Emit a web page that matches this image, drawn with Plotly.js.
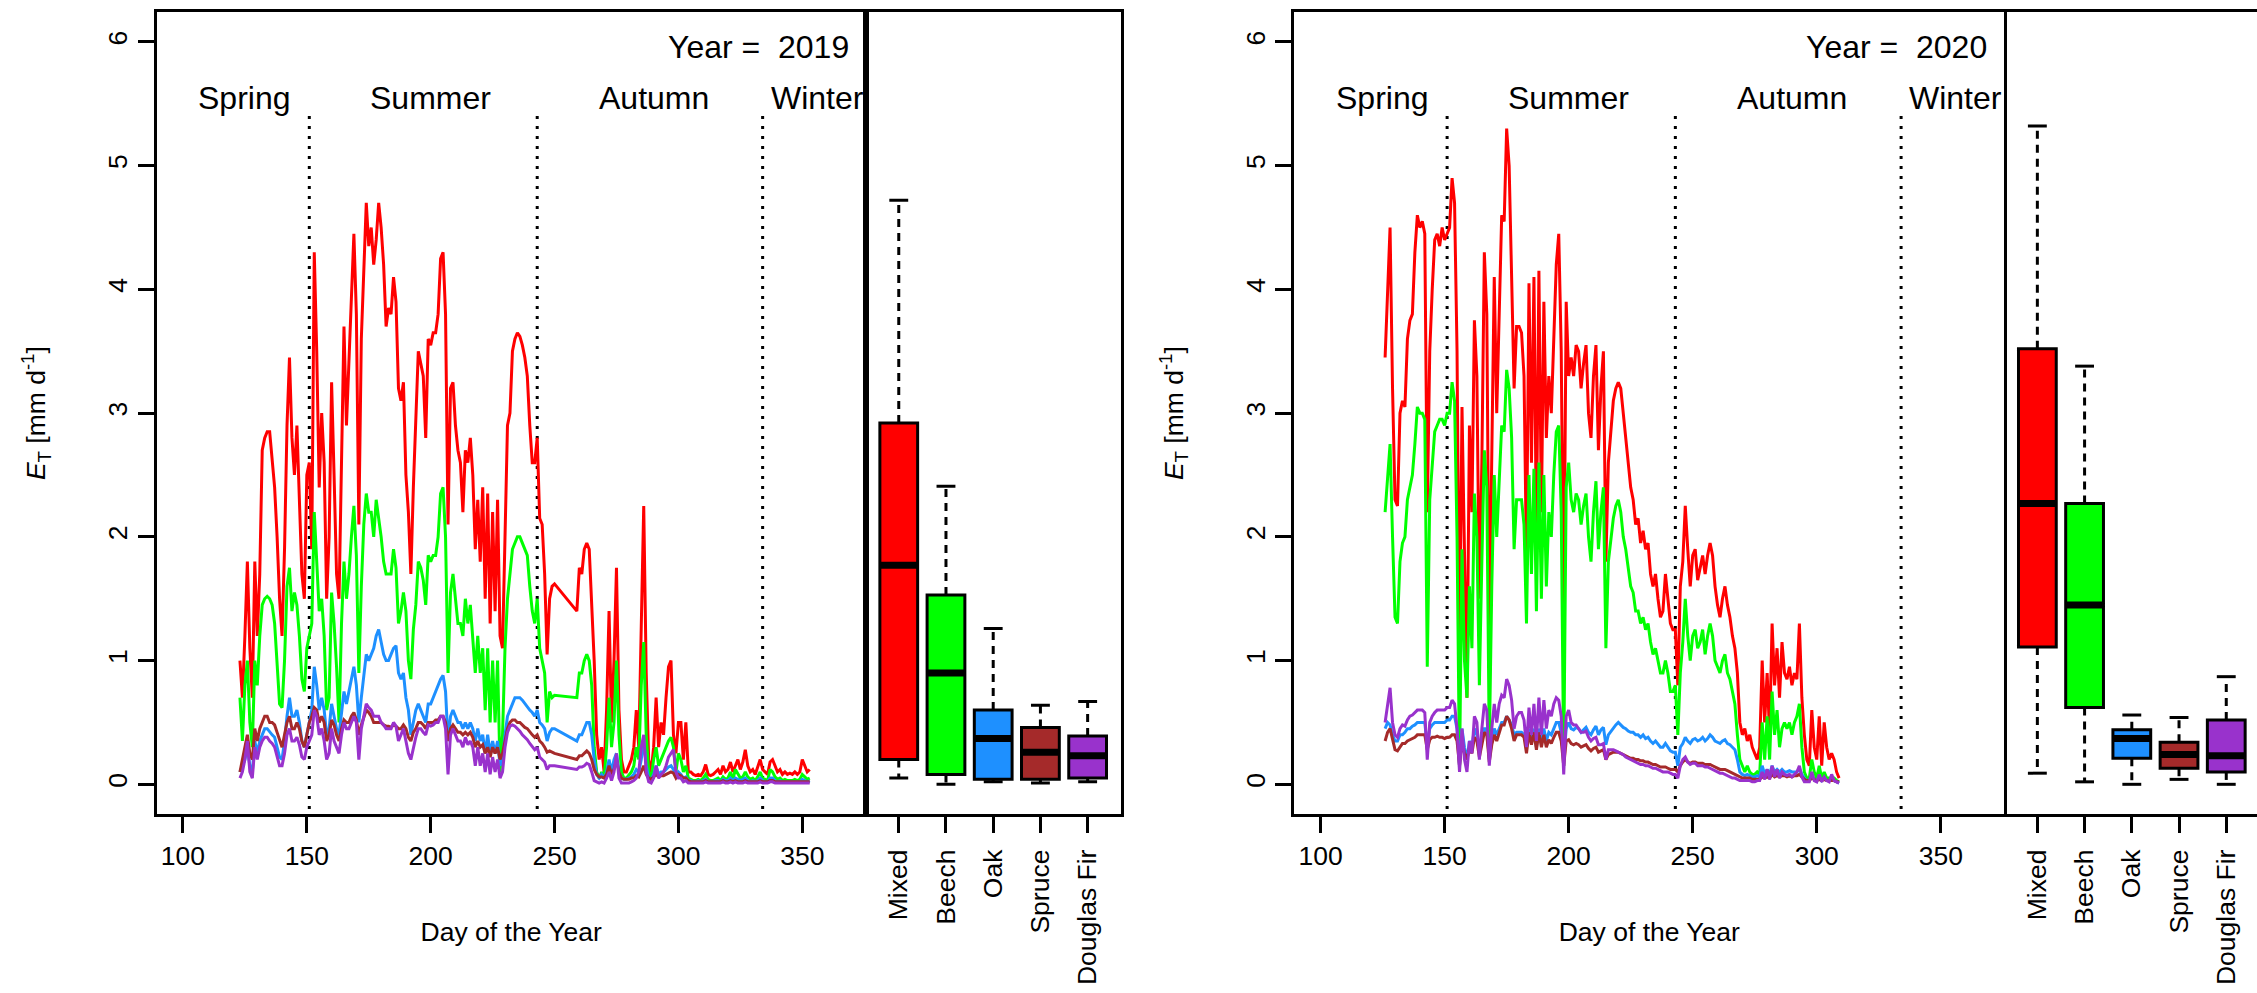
<!DOCTYPE html>
<html>
<head>
<meta charset="utf-8">
<script src="https://cdn.plot.ly/plotly-3.0.1.min.js"></script>
<style>html,body{margin:0;padding:0;background:#fff;}#chart{width:2257px;height:993px;}</style>
</head>
<body>
<div id="chart"></div>
<script>
// ---------------- DATA ----------------
const species = ['Mixed', 'Beech', 'Oak', 'Spruce', 'Douglas Fir'];
const speciesColors = ['#FF0000', '#00FF00', '#1E90FF', '#A52A2A', '#9932CC'];
const seasonNames = ['Spring', 'Summer', 'Autumn', 'Winter'];
const seasonLabelDays = [125, 200, 290, 356];
const seasonBoundaryDays = [151, 243, 334];
const dayTicks = [100, 150, 200, 250, 300, 350];
const etTicks = [0, 1, 2, 3, 4, 5, 6];

// 2019: observed days 123-250 and 259-353 (gap 251-258)
const days2019a = [123, 250];
const days2019b = [259, 353];

const mixed2019 = [
 1.0,0.7,1.2,1.8,1.1,0.7,1.8,1.2,1.7,2.7,
 2.8,2.85,2.85,2.6,2.4,2.0,1.5,1.2,1.9,2.9,
 3.45,2.8,2.5,2.9,2.2,1.7,1.5,2.5,2.6,1.9,
 4.3,3.5,2.4,3.0,2.6,1.5,2.0,3.25,2.5,1.7,
 1.5,2.6,3.7,2.9,3.4,4.0,4.45,3.8,2.1,3.6,
 4.1,4.7,4.35,4.5,4.2,4.4,4.7,4.5,4.2,3.7,
 3.85,3.8,4.1,3.9,3.2,3.1,3.25,2.5,2.2,1.7,
 2.4,3.0,3.5,3.4,3.3,2.8,3.6,3.55,3.65,3.65,
 3.8,4.25,4.3,3.8,2.1,3.2,3.25,2.9,2.7,2.6,
 2.2,2.7,2.6,2.8,2.5,1.9,2.3,1.8,2.4,1.5,
 2.35,1.3,2.2,1.4,2.3,1.2,1.1,2.0,2.9,3.0,
 3.5,3.6,3.65,3.62,3.55,3.45,3.3,2.9,2.6,2.6,
 2.8,2.15,2.1,1.7,1.05,1.5,1.6,1.62,
 1.4,1.75,1.7,1.9,1.95,1.9,1.5,1.0,0.4,0.2,
 0.3,0.1,0.6,1.4,0.5,1.0,1.75,0.6,0.2,0.1,
 0.1,0.15,0.2,0.3,0.6,0.3,1.2,2.25,0.9,0.2,
 0.1,0.3,0.7,0.3,0.5,0.4,0.7,0.95,1.0,0.4,
 0.25,0.5,0.5,0.2,0.5,0.1,
 0.1,0.08,0.07,0.08,0.07,0.1,0.16,0.08,0.07,0.08,
 0.1,0.12,0.08,0.15,0.1,0.12,0.18,0.1,0.15,0.2,
 0.12,0.18,0.28,0.15,0.1,0.12,0.08,0.15,0.2,0.12,
 0.1,0.08,0.18,0.2,0.15,0.1,0.12,0.08,0.1,0.08,
 0.09,0.08,0.1,0.08,0.1,0.2,0.15,0.1,0.12
];
const beech2019 = [
 0.7,0.35,0.8,1.0,0.5,0.3,1.0,0.8,1.2,1.45,
 1.5,1.52,1.5,1.45,1.3,1.0,0.65,0.62,1.0,1.6,
 1.75,1.4,1.55,1.45,1.2,0.85,0.75,1.1,1.2,1.3,
 2.2,1.8,1.4,1.5,1.2,0.6,0.7,1.55,1.3,0.95,
 0.5,1.3,1.8,1.5,1.7,2.0,2.25,1.85,0.9,1.6,
 2.1,2.35,2.2,2.2,2.0,2.3,2.15,2.0,1.8,1.7,
 1.7,1.7,1.9,1.75,1.3,1.4,1.55,1.4,1.0,0.85,
 1.25,1.45,1.8,1.75,1.65,1.45,1.85,1.8,1.85,1.85,
 2.0,2.35,2.4,2.0,0.9,1.55,1.7,1.5,1.3,1.3,
 1.2,1.5,1.3,1.45,1.2,0.9,1.2,0.9,1.1,0.6,
 1.1,0.5,1.0,0.5,1.0,0.1,0.4,1.1,1.5,1.7,
 1.9,1.95,2.0,2.0,1.95,1.9,1.85,1.6,1.4,1.3,
 1.5,1.1,1.0,0.9,0.5,0.75,0.7,0.72,
 0.7,0.9,0.9,1.0,1.05,1.0,0.8,0.3,0.1,0.05,
 0.1,0.05,0.3,0.7,0.3,0.5,1.0,0.4,0.1,0.05,
 0.05,0.08,0.1,0.15,0.3,0.2,0.8,1.15,0.4,0.1,
 0.05,0.2,0.3,0.15,0.2,0.25,0.3,0.35,0.38,0.3,
 0.1,0.25,0.2,0.1,0.15,0.05,
 0.04,0.03,0.03,0.04,0.03,0.05,0.08,0.04,0.03,0.03,
 0.04,0.05,0.03,0.06,0.04,0.05,0.1,0.04,0.12,0.08,
 0.05,0.06,0.1,0.06,0.04,0.05,0.03,0.06,0.1,0.05,
 0.04,0.03,0.12,0.1,0.06,0.04,0.05,0.03,0.04,0.03,
 0.03,0.03,0.04,0.03,0.04,0.08,0.06,0.04,0.05
];
const oak2019 = [
 0.1,0.15,0.2,0.3,0.15,0.1,0.35,0.25,0.35,0.4,
 0.45,0.45,0.42,0.4,0.38,0.3,0.22,0.2,0.35,0.55,
 0.7,0.55,0.55,0.6,0.5,0.35,0.3,0.4,0.5,0.6,
 0.95,0.8,0.6,0.7,0.6,0.4,0.45,0.65,0.55,0.45,
 0.4,0.6,0.75,0.65,0.75,0.85,0.95,0.8,0.5,0.7,
 0.9,1.05,1.0,1.05,1.1,1.2,1.25,1.15,1.05,1.0,
 1.0,1.05,1.1,1.12,0.9,0.85,0.9,0.7,0.6,0.4,
 0.5,0.6,0.65,0.6,0.55,0.5,0.65,0.65,0.7,0.75,
 0.8,0.85,0.88,0.75,0.35,0.55,0.6,0.55,0.5,0.5,
 0.45,0.5,0.45,0.5,0.45,0.35,0.45,0.35,0.4,0.25,
 0.4,0.25,0.35,0.25,0.35,0.15,0.2,0.4,0.55,0.6,
 0.65,0.7,0.7,0.7,0.68,0.65,0.63,0.6,0.58,0.55,
 0.6,0.5,0.48,0.45,0.35,0.42,0.45,0.45,
 0.35,0.4,0.4,0.45,0.5,0.5,0.4,0.2,0.08,0.05,
 0.08,0.05,0.1,0.2,0.1,0.2,0.25,0.1,0.05,0.04,
 0.04,0.05,0.06,0.08,0.12,0.1,0.2,0.35,0.15,0.05,
 0.04,0.08,0.15,0.08,0.1,0.1,0.12,0.14,0.15,0.12,
 0.06,0.1,0.08,0.05,0.06,0.03,
 0.03,0.02,0.02,0.03,0.02,0.03,0.04,0.02,0.02,0.02,
 0.03,0.03,0.02,0.04,0.03,0.03,0.05,0.03,0.05,0.04,
 0.03,0.04,0.05,0.03,0.02,0.03,0.02,0.03,0.05,0.03,
 0.02,0.02,0.05,0.05,0.03,0.02,0.03,0.02,0.02,0.02,
 0.02,0.02,0.02,0.02,0.02,0.04,0.03,0.02,0.03
];
const spruce2019 = [
 0.1,0.2,0.3,0.4,0.25,0.2,0.45,0.35,0.45,0.5,
 0.55,0.55,0.5,0.5,0.48,0.42,0.35,0.3,0.4,0.5,
 0.55,0.45,0.45,0.5,0.45,0.35,0.3,0.4,0.5,0.55,
 0.62,0.6,0.5,0.55,0.5,0.35,0.4,0.52,0.48,0.4,
 0.35,0.45,0.52,0.5,0.5,0.55,0.58,0.52,0.4,0.48,
 0.55,0.6,0.58,0.55,0.5,0.5,0.5,0.5,0.48,0.47,
 0.47,0.46,0.48,0.47,0.45,0.45,0.48,0.45,0.38,0.35,
 0.42,0.45,0.5,0.5,0.48,0.45,0.5,0.5,0.5,0.52,
 0.52,0.55,0.55,0.5,0.35,0.45,0.48,0.45,0.42,0.42,
 0.4,0.42,0.4,0.42,0.38,0.3,0.35,0.3,0.32,0.25,
 0.3,0.22,0.3,0.25,0.3,0.2,0.25,0.35,0.45,0.5,
 0.52,0.52,0.5,0.5,0.48,0.46,0.45,0.42,0.4,0.38,
 0.4,0.35,0.33,0.3,0.26,0.27,0.26,0.25,
 0.2,0.23,0.23,0.25,0.27,0.25,0.2,0.12,0.08,0.06,
 0.06,0.05,0.08,0.15,0.08,0.12,0.2,0.1,0.05,0.04,
 0.04,0.04,0.05,0.05,0.07,0.06,0.1,0.15,0.08,0.05,
 0.04,0.06,0.08,0.06,0.07,0.07,0.08,0.09,0.1,0.09,
 0.05,0.08,0.07,0.05,0.05,0.03,
 0.02,0.02,0.02,0.02,0.02,0.02,0.03,0.02,0.02,0.02,
 0.02,0.02,0.02,0.03,0.02,0.02,0.03,0.02,0.03,0.02,
 0.02,0.02,0.03,0.02,0.02,0.02,0.02,0.02,0.03,0.02,
 0.02,0.02,0.03,0.03,0.02,0.02,0.02,0.02,0.02,0.02,
 0.02,0.02,0.02,0.02,0.02,0.02,0.02,0.02,0.02
];
const douglas2019 = [
 0.05,0.1,0.2,0.35,0.1,0.05,0.3,0.2,0.3,0.35,
 0.38,0.38,0.35,0.33,0.3,0.22,0.15,0.15,0.25,0.4,
 0.45,0.35,0.35,0.38,0.32,0.22,0.2,0.3,0.35,0.4,
 0.6,0.55,0.4,0.45,0.35,0.2,0.25,0.45,0.35,0.3,
 0.25,0.4,0.5,0.45,0.45,0.5,0.55,0.5,0.2,0.45,
 0.55,0.65,0.62,0.6,0.55,0.55,0.55,0.5,0.48,0.45,
 0.45,0.45,0.5,0.47,0.35,0.4,0.45,0.35,0.25,0.2,
 0.3,0.38,0.45,0.45,0.42,0.4,0.48,0.47,0.48,0.5,
 0.5,0.55,0.55,0.45,0.08,0.4,0.45,0.4,0.35,0.35,
 0.3,0.38,0.32,0.35,0.3,0.15,0.3,0.15,0.25,0.1,
 0.25,0.08,0.22,0.1,0.2,0.05,0.1,0.3,0.42,0.47,
 0.48,0.47,0.45,0.43,0.4,0.38,0.36,0.33,0.3,0.28,
 0.3,0.22,0.2,0.18,0.12,0.15,0.15,0.15,
 0.12,0.14,0.14,0.15,0.17,0.16,0.1,0.03,0.02,0.01,
 0.02,0.01,0.05,0.1,0.03,0.1,0.25,0.05,0.01,0.01,
 0.01,0.01,0.02,0.03,0.05,0.1,0.3,0.4,0.1,0.02,
 0.01,0.05,0.15,0.05,0.08,0.1,0.15,0.22,0.25,0.28,
 0.1,0.05,0.05,0.02,0.03,0.01,
 0.01,0.01,0.01,0.01,0.01,0.01,0.02,0.01,0.01,0.01,
 0.01,0.01,0.01,0.02,0.01,0.01,0.02,0.01,0.02,0.01,
 0.01,0.01,0.02,0.01,0.01,0.01,0.01,0.01,0.02,0.01,
 0.01,0.01,0.02,0.02,0.01,0.01,0.01,0.01,0.01,0.01,
 0.01,0.01,0.01,0.01,0.01,0.01,0.01,0.01,0.01
];

// 2020: observed days 126-309
const days2020 = [126, 309];
const mixed2020 = [
 3.45,4.0,4.5,3.2,2.3,2.25,3.0,3.1,3.05,3.6,
 3.75,3.8,4.3,4.6,4.5,4.55,4.45,2.2,3.5,4.0,
 4.4,4.45,4.35,4.5,4.4,4.45,4.5,4.9,4.7,3.5,
 1.0,3.05,1.9,0.7,2.9,2.2,3.75,3.3,1.5,2.6,
 4.3,3.8,1.2,2.6,4.1,3.0,3.9,4.6,4.55,5.3,
 5.0,4.2,3.2,3.7,3.7,3.65,3.3,1.8,4.05,2.6,
 4.1,2.0,4.15,2.2,3.9,2.8,3.3,3.0,3.7,4.2,
 4.45,3.5,1.3,3.9,3.3,3.45,3.3,3.55,3.5,3.2,
 3.4,3.55,3.0,2.8,3.3,3.55,2.7,3.2,3.5,1.8,
 2.6,2.85,3.1,3.2,3.25,3.2,3.0,2.8,2.6,2.4,
 2.3,2.1,2.15,1.95,2.05,1.9,1.95,1.7,1.6,1.7,
 1.5,1.35,1.4,1.7,1.5,1.3,1.25,1.25,0.8,1.6,
 1.8,2.25,1.9,1.6,1.85,1.9,1.65,1.75,1.85,1.7,
 1.85,1.95,1.85,1.6,1.45,1.35,1.5,1.6,1.45,1.35,
 1.2,1.1,0.9,0.5,0.4,0.45,0.35,0.4,0.3,0.25,
 0.2,0.3,1.0,0.5,0.9,0.4,1.3,0.8,1.1,0.7,
 1.15,0.9,0.85,0.95,0.8,0.9,0.85,1.3,0.7,0.4,
 0.2,0.15,0.6,0.3,0.2,0.55,0.15,0.5,0.3,0.2,
 0.25,0.2,0.1,0.05
];
const beech2020 = [
 2.2,2.5,2.75,2.0,1.35,1.3,1.8,1.95,2.0,2.3,
 2.4,2.5,2.75,3.05,3.0,3.0,2.95,0.95,2.3,2.6,
 2.85,2.9,2.95,2.95,2.9,3.0,3.0,3.25,3.1,2.0,
 0.1,1.9,1.0,0.7,1.6,1.1,2.35,2.0,0.8,1.8,
 2.7,2.4,0.3,1.6,2.5,2.0,2.45,2.9,2.85,3.35,
 3.2,2.8,1.9,2.3,2.3,2.3,2.1,1.3,2.5,1.7,
 2.55,1.4,2.6,1.5,2.5,1.6,2.2,2.0,2.5,2.85,
 2.9,2.2,0.15,2.4,2.6,2.3,2.2,2.35,2.3,2.1,
 2.25,2.35,2.0,1.8,2.2,2.45,1.9,2.2,2.4,1.1,
 1.8,2.0,2.15,2.25,2.3,2.2,2.0,1.9,1.75,1.6,
 1.55,1.4,1.4,1.3,1.35,1.25,1.3,1.15,1.05,1.1,
 1.0,0.9,0.9,1.0,0.9,0.75,0.75,0.8,0.4,0.9,
 1.15,1.5,1.2,1.0,1.2,1.25,1.1,1.15,1.25,1.05,
 1.2,1.3,1.2,1.0,0.95,0.9,1.0,1.05,0.9,0.85,
 0.75,0.65,0.4,0.2,0.15,0.1,0.15,0.1,0.08,0.08,
 0.1,0.08,0.5,0.2,0.55,0.2,0.75,0.4,0.6,0.3,
 0.45,0.5,0.45,0.5,0.4,0.5,0.55,0.65,0.3,0.1,
 0.05,0.05,0.2,0.1,0.05,0.15,0.05,0.1,0.05,0.05,
 0.05,0.05,0.03,0.02
];
const oak2020 = [
 0.45,0.5,0.48,0.4,0.35,0.35,0.4,0.4,0.42,0.45,
 0.45,0.47,0.48,0.5,0.5,0.5,0.5,0.3,0.45,0.48,
 0.5,0.5,0.5,0.5,0.5,0.52,0.52,0.55,0.55,0.45,
 0.15,0.45,0.3,0.2,0.35,0.3,0.45,0.4,0.25,0.35,
 0.45,0.45,0.2,0.35,0.45,0.4,0.45,0.5,0.5,0.55,
 0.52,0.48,0.4,0.42,0.42,0.42,0.4,0.3,0.45,0.35,
 0.45,0.3,0.45,0.35,0.45,0.35,0.42,0.4,0.45,0.5,
 0.5,0.42,0.2,0.45,0.5,0.45,0.44,0.46,0.45,0.42,
 0.44,0.46,0.42,0.4,0.44,0.47,0.4,0.44,0.46,0.32,
 0.4,0.43,0.46,0.48,0.5,0.48,0.46,0.45,0.43,0.42,
 0.42,0.4,0.4,0.38,0.4,0.37,0.38,0.35,0.33,0.35,
 0.32,0.3,0.3,0.33,0.3,0.27,0.26,0.26,0.15,0.3,
 0.33,0.38,0.35,0.33,0.36,0.37,0.35,0.36,0.38,0.35,
 0.37,0.4,0.38,0.35,0.34,0.33,0.35,0.36,0.33,0.32,
 0.3,0.28,0.2,0.1,0.08,0.07,0.08,0.07,0.06,0.06,
 0.07,0.06,0.15,0.08,0.12,0.08,0.15,0.1,0.12,0.1,
 0.12,0.1,0.1,0.11,0.1,0.1,0.1,0.13,0.08,0.05,
 0.03,0.03,0.08,0.04,0.03,0.06,0.03,0.05,0.03,0.03,
 0.03,0.03,0.02,0.01
];
const spruce2020 = [
 0.35,0.42,0.45,0.35,0.28,0.27,0.3,0.33,0.33,0.35,
 0.36,0.37,0.38,0.4,0.4,0.4,0.4,0.28,0.36,0.38,
 0.38,0.39,0.38,0.38,0.37,0.38,0.38,0.4,0.4,0.35,
 0.15,0.35,0.25,0.2,0.3,0.25,0.38,0.35,0.22,0.32,
 0.42,0.4,0.18,0.32,0.4,0.35,0.42,0.48,0.48,0.55,
 0.52,0.45,0.35,0.4,0.4,0.4,0.38,0.25,0.42,0.32,
 0.42,0.28,0.42,0.3,0.4,0.3,0.36,0.33,0.38,0.42,
 0.42,0.35,0.15,0.35,0.36,0.33,0.32,0.33,0.32,0.3,
 0.31,0.32,0.29,0.27,0.29,0.3,0.26,0.27,0.28,0.2,
 0.24,0.25,0.26,0.26,0.26,0.25,0.24,0.23,0.22,0.21,
 0.21,0.2,0.2,0.19,0.19,0.18,0.18,0.17,0.16,0.16,
 0.15,0.14,0.14,0.14,0.13,0.12,0.12,0.12,0.1,0.15,
 0.18,0.2,0.18,0.17,0.18,0.18,0.17,0.17,0.17,0.16,
 0.16,0.16,0.15,0.14,0.13,0.12,0.12,0.12,0.11,0.1,
 0.09,0.08,0.07,0.06,0.05,0.05,0.05,0.05,0.04,0.04,
 0.04,0.04,0.06,0.05,0.06,0.05,0.08,0.06,0.07,0.06,
 0.07,0.07,0.06,0.07,0.06,0.07,0.07,0.08,0.06,0.04,
 0.03,0.03,0.05,0.04,0.03,0.04,0.03,0.04,0.03,0.03,
 0.03,0.03,0.02,0.02
];
const douglas2020 = [
 0.5,0.65,0.78,0.5,0.4,0.38,0.45,0.48,0.47,0.52,
 0.55,0.56,0.58,0.6,0.6,0.6,0.58,0.2,0.5,0.55,
 0.58,0.6,0.6,0.6,0.6,0.62,0.62,0.68,0.65,0.45,
 0.1,0.45,0.2,0.1,0.35,0.25,0.55,0.5,0.2,0.45,
 0.65,0.6,0.15,0.45,0.65,0.5,0.65,0.72,0.7,0.85,
 0.8,0.68,0.45,0.55,0.58,0.58,0.52,0.3,0.62,0.4,
 0.65,0.35,0.7,0.4,0.68,0.45,0.6,0.55,0.65,0.7,
 0.68,0.55,0.08,0.55,0.6,0.5,0.48,0.48,0.45,0.42,
 0.42,0.43,0.38,0.35,0.37,0.38,0.32,0.32,0.33,0.2,
 0.28,0.28,0.28,0.27,0.26,0.25,0.24,0.22,0.21,0.2,
 0.19,0.18,0.17,0.16,0.16,0.15,0.15,0.14,0.13,0.13,
 0.12,0.11,0.1,0.1,0.1,0.09,0.08,0.08,0.05,0.15,
 0.2,0.22,0.18,0.16,0.17,0.17,0.15,0.15,0.15,0.14,
 0.14,0.13,0.12,0.11,0.1,0.09,0.09,0.08,0.07,0.06,
 0.05,0.05,0.04,0.03,0.03,0.03,0.03,0.03,0.02,0.02,
 0.03,0.03,0.1,0.04,0.12,0.04,0.15,0.06,0.12,0.05,
 0.1,0.08,0.07,0.08,0.06,0.08,0.1,0.15,0.06,0.02,
 0.02,0.02,0.1,0.03,0.02,0.08,0.02,0.06,0.03,0.02,
 0.08,0.03,0.02,0.01
];

// Box-plot statistics per species (Mixed, Beech, Oak, Spruce, Douglas Fir)
const box2019 = {
  lower:  [0.05, 0.00, 0.02, 0.01, 0.02],
  q1:     [0.20, 0.08, 0.04, 0.04, 0.05],
  median: [1.77, 0.90, 0.37, 0.26, 0.23],
  q3:     [2.92, 1.53, 0.60, 0.46, 0.39],
  upper:  [4.72, 2.41, 1.26, 0.64, 0.67]
};
const box2020 = {
  lower:  [0.09, 0.02, 0.00, 0.04, 0.00],
  q1:     [1.11, 0.62, 0.21, 0.13, 0.10],
  median: [2.27, 1.45, 0.37, 0.24, 0.23],
  q3:     [3.52, 2.27, 0.44, 0.34, 0.52],
  upper:  [5.32, 3.38, 0.56, 0.54, 0.87]
};
const boxPositions = [1, 2, 3, 4, 5];

// ---------------- HELPERS ----------------
function dayRange(r) { const out = []; for (let d = r[0]; d <= r[1]; d++) out.push(d); return out; }
const x2019 = dayRange(days2019a).concat(dayRange(days2019b));
const x2020 = dayRange(days2020);

const FONT = 'Liberation Sans, Arial, Helvetica, sans-serif';
const FS = 26.5;
const FS_TXT = 32;
const LW = 3;
const BOXW = 0.8;

const traces = [];

function addSeasonLines(xa, ya) {
  const xs = [], ys = [];
  seasonBoundaryDays.forEach(d => { xs.push(d, d, null); ys.push(-0.2, 5.45, null); });
  traces.push({type: 'scatter', mode: 'lines', x: xs, y: ys, xaxis: xa, yaxis: ya,
    line: {color: 'black', width: 3, dash: '3px,7px'}, hoverinfo: 'skip'});
}
function addSeries(xs, seriesList, xa, ya) {
  seriesList.forEach((ys, i) => {
    traces.push({type: 'scatter', mode: 'lines', x: xs, y: ys, xaxis: xa, yaxis: ya,
      name: species[i], line: {color: speciesColors[i], width: LW}});
  });
}
function addBoxes(stats, xa, ya) {
  species.forEach((s, i) => {
    traces.push({type: 'box', name: s, x: [boxPositions[i]],
      q1: [stats.q1[i]], median: [stats.median[i]], q3: [stats.q3[i]],
      lowerfence: [stats.q1[i]], upperfence: [stats.q3[i]],
      width: BOXW, whiskerwidth: 0, boxpoints: false,
      fillcolor: speciesColors[i], line: {color: 'black', width: 3},
      xaxis: xa, yaxis: ya, hoverinfo: 'skip'});
  });
  // whiskers (dashed), staples, medians
  const wx = [], wy = [], cx = [], cy = [], mx = [], my = [];
  boxPositions.forEach((p, i) => {
    wx.push(p, p, null, p, p, null);
    wy.push(stats.q3[i], stats.upper[i], null, stats.q1[i], stats.lower[i], null);
    cx.push(p - BOXW / 4, p + BOXW / 4, null, p - BOXW / 4, p + BOXW / 4, null);
    cy.push(stats.upper[i], stats.upper[i], null, stats.lower[i], stats.lower[i], null);
    mx.push(p - BOXW / 2, p + BOXW / 2, null);
    my.push(stats.median[i], stats.median[i], null);
  });
  traces.push({type: 'scatter', mode: 'lines', x: wx, y: wy, xaxis: xa, yaxis: ya,
    line: {color: 'black', width: 3, dash: '8px,6px'}, hoverinfo: 'skip'});
  traces.push({type: 'scatter', mode: 'lines', x: cx, y: cy, xaxis: xa, yaxis: ya,
    line: {color: 'black', width: 3}, hoverinfo: 'skip'});
  traces.push({type: 'scatter', mode: 'lines', x: mx, y: my, xaxis: xa, yaxis: ya,
    line: {color: 'black', width: 7}, hoverinfo: 'skip'});
}

addSeasonLines('x', 'y');
addSeries(x2019, [mixed2019, beech2019, oak2019, spruce2019, douglas2019], 'x', 'y');
addBoxes(box2019, 'x2', 'y2');
addSeasonLines('x3', 'y3');
addSeries(x2020, [mixed2020, beech2020, oak2020, spruce2020, douglas2020], 'x3', 'y3');
addBoxes(box2020, 'x4', 'y4');

// ---------------- LAYOUT ----------------
const W = 2257, H = 993;
const yDom = [1 - 814 / H, 1 - 12.3 / H];
const yRange = [-0.24, 6.24];

function lineX(dom, anchor) {
  return {domain: dom, anchor: anchor, range: [89.4, 375.6], tickvals: dayTicks,
    ticks: 'outside', ticklen: 16, tickwidth: LW, tickcolor: 'black',
    showline: true, linewidth: LW, linecolor: 'black', mirror: true,
    showgrid: false, zeroline: false, tickfont: {size: FS, family: FONT, color: 'black'},
    title: {text: 'Day of the Year', font: {size: FS, family: FONT, color: 'black'}, standoff: 53}};
}
function lineY(anchor) {
  return {domain: yDom, anchor: anchor, range: yRange, tickvals: etTicks, tickangle: -90,
    ticks: 'outside', ticklen: 16, tickwidth: LW, tickcolor: 'black',
    showline: true, linewidth: LW, linecolor: 'black', mirror: true,
    showgrid: false, zeroline: false, tickfont: {size: FS, family: FONT, color: 'black'},
    title: {text: '<i>E</i><sub>T</sub> [mm d<sup>-1</sup>]', font: {size: FS, family: FONT, color: 'black'}, standoff: 50}};
}
function boxX(dom, anchor, range) {
  return {domain: dom, anchor: anchor, range: range, tickvals: boxPositions, ticktext: species,
    tickangle: -90, ticks: 'outside', ticklen: 16, tickwidth: LW, tickcolor: 'black',
    ticklabelstandoff: 6,
    showline: true, linewidth: LW, linecolor: 'black', mirror: true,
    showgrid: false, zeroline: false, tickfont: {size: FS, family: FONT, color: 'black'}};
}
function boxY(anchor, showline) {
  return {domain: yDom, anchor: anchor, range: yRange, showticklabels: false, ticks: '',
    showline: showline, linewidth: LW, linecolor: 'black', mirror: showline,
    showgrid: false, zeroline: false};
}

const annotations = [];
function addTexts(xa, ya, year) {
  seasonNames.forEach((s, i) => annotations.push({xref: xa, yref: ya, x: seasonLabelDays[i], y: 5.55,
    text: s, showarrow: false, xanchor: 'center', yanchor: 'middle',
    font: {size: FS_TXT, family: FONT, color: 'black'}}));
  annotations.push({xref: xa, yref: ya, x: 369.5, y: 5.96, text: 'Year =\u00a0 ' + year,
    showarrow: false, xanchor: 'right', yanchor: 'middle', font: {size: FS_TXT, family: FONT, color: 'black'}});
}
addTexts('x', 'y', 2019);
addTexts('x3', 'y3', 2020);

const layout = {
  width: W, height: H, margin: {l: 0, r: 0, t: 0, b: 0},
  paper_bgcolor: 'white', plot_bgcolor: 'white', showlegend: false,
  font: {family: FONT, size: FS, color: 'black'},
  xaxis: lineX([156.7 / W, 865.7 / W], 'y'),
  yaxis: lineY('x'),
  xaxis2: boxX([865.7 / W, 1120.7 / W], 'y2', [0.3, 5.7]),
  yaxis2: boxY('x2', true),
  xaxis3: lineX([1294.3 / W, 2004.3 / W], 'y3'),
  yaxis3: lineY('x3'),
  xaxis4: boxX([2004.3 / W, 1], 'y4', [0.3, 5.651]),
  yaxis4: boxY('x4', false),
  annotations: annotations
};

Plotly.newPlot('chart', traces, layout, {staticPlot: true, displayModeBar: false});
</script>
</body>
</html>
